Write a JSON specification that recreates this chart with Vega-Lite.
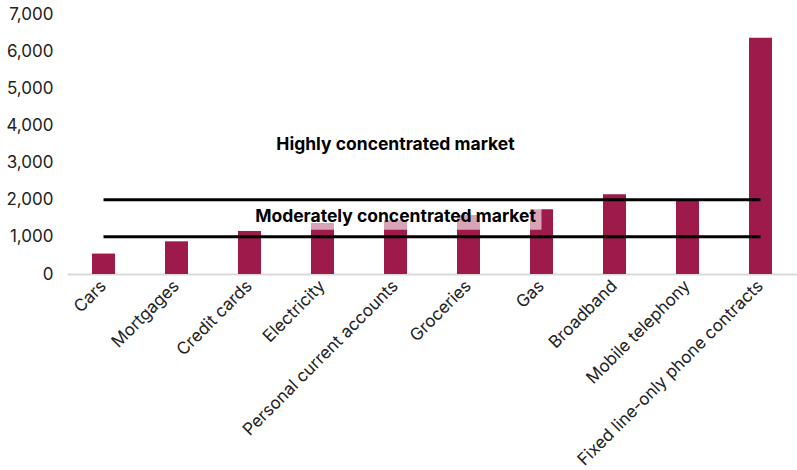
{
  "$schema": "https://vega.github.io/schema/vega-lite/v6.json",
  "autosize": {"type": "none"},
  "padding": {"left": 67, "top": 14, "right": 0, "bottom": 196},
  "width": 730,
  "height": 260,
  "config": {
    "view": {"stroke": null},
    "font": "Inter",
    "axis": {"labelFont": "Inter", "labelColor": "#222222", "title": null, "ticks": false, "grid": false, "labelFontSize": 17},
    "axisX": {"labelAngle": -45, "labelAlign": "right", "labelBaseline": "middle", "labelPadding": 9, "domainColor": "#d9d9d9", "domainWidth": 2, "labelLimit": 400},
    "axisY": {"domain": false, "labelPadding": 14}
  },
  "datasets": {
    "bars": [
      {"market": "Cars", "hhi": 550},
      {"market": "Mortgages", "hhi": 880},
      {"market": "Credit cards", "hhi": 1160},
      {"market": "Electricity", "hhi": 1370},
      {"market": "Personal current accounts", "hhi": 1450},
      {"market": "Groceries", "hhi": 1590},
      {"market": "Gas", "hhi": 1740},
      {"market": "Broadband", "hhi": 2150},
      {"market": "Mobile telephony", "hhi": 2000},
      {"market": "Fixed line-only phone contracts", "hhi": 6360}
    ],
    "thresholds": [
      {"level": 2000, "start": "Cars", "end": "Fixed line-only phone contracts"},
      {"level": 1000, "start": "Cars", "end": "Fixed line-only phone contracts"}
    ],
    "labels": [
      {"label": "Highly concentrated market", "pos": "Personal current accounts", "y": 3470},
      {"label": "Moderately concentrated market", "pos": "Personal current accounts", "y": 1530}
    ],
    "box": [
      {"start": "Credit cards", "end": "Gas", "y1": 1190, "y2": 1750}
    ]
  },
  "layer": [
    {
      "data": {"name": "bars"},
      "mark": {"type": "bar", "size": 23, "color": "#9d1a4a"},
      "encoding": {
        "x": {
          "field": "market", "type": "nominal", "sort": null,
          "scale": {"paddingInner": 0, "paddingOuter": 0},
          "axis": {"title": null}
        },
        "y": {
          "field": "hhi", "type": "quantitative",
          "scale": {"domain": [0, 7000]},
          "axis": {"title": null, "values": [0, 1000, 2000, 3000, 4000, 5000, 6000, 7000], "format": ",.0f"}
        }
      }
    },
    {
      "data": {"name": "box"},
      "mark": {"type": "rect", "color": "white", "opacity": 0.6},
      "encoding": {
        "x": {"field": "start", "type": "nominal", "sort": null, "bandPosition": 0.5, "axis": {"title": null}},
        "x2": {"field": "end"},
        "y": {"field": "y1", "type": "quantitative", "axis": {"title": null, "values": [0, 1000, 2000, 3000, 4000, 5000, 6000, 7000], "format": ",.0f"}},
        "y2": {"field": "y2"}
      }
    },
    {
      "data": {"name": "thresholds"},
      "mark": {"type": "rule", "color": "#000000", "strokeWidth": 3},
      "encoding": {
        "x": {"field": "start", "type": "nominal", "sort": null, "axis": {"title": null}},
        "x2": {"field": "end"},
        "y": {"field": "level", "type": "quantitative", "axis": {"title": null, "values": [0, 1000, 2000, 3000, 4000, 5000, 6000, 7000], "format": ",.0f"}}
      }
    },
    {
      "data": {"name": "labels"},
      "mark": {"type": "text", "fontWeight": "bold", "fontSize": 17.5, "color": "#000000", "align": "center", "baseline": "middle"},
      "encoding": {
        "x": {"field": "pos", "type": "nominal", "sort": null, "axis": {"title": null}},
        "y": {"field": "y", "type": "quantitative", "axis": {"title": null, "values": [0, 1000, 2000, 3000, 4000, 5000, 6000, 7000], "format": ",.0f"}},
        "text": {"field": "label"}
      }
    }
  ]
}
